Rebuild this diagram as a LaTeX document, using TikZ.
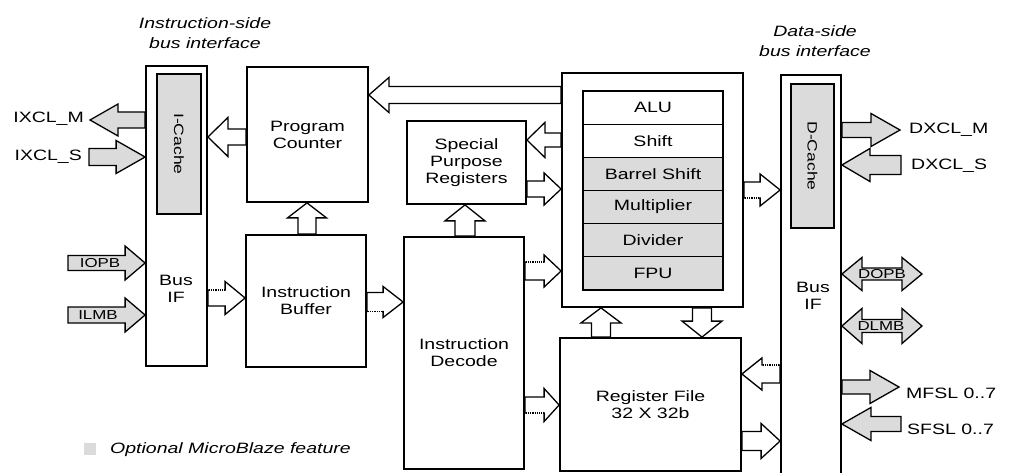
\documentclass[tikz,border=0pt]{standalone}
\usepackage{fontspec}
\setmainfont[FakeStretch=1.3]{Liberation Sans}
\usetikzlibrary{calc,backgrounds}
\definecolor{lgray}{gray}{0.86}
\newcommand\lbl{\fontsize{15}{17}\selectfont}
\newcommand\smlbl{\fontsize{13}{15}\selectfont}
\newcommand\hdlbl{\fontsize{15}{19.5}\selectfont\itshape}
% block arrow: [style]{tail}{tip}{half shaft}{half head}{head length}
\newcommand\blkarrow[6][]{%
  \coordinate (ba) at #2; \coordinate (bb) at #3;
  \coordinate (bc) at ($(bb)!#6pt!(ba)$);
  \draw[arr,#1] ($(ba)!#4pt!90:(bb)$) -- ($(bc)!#4pt!-90:(ba)$) -- ($(bc)!#5pt!-90:(ba)$) -- (bb)
     -- ($(bc)!#5pt!90:(ba)$) -- ($(bc)!#4pt!90:(ba)$) -- ($(ba)!#4pt!-90:(bb)$) -- cycle;}
% double block arrow
\newcommand\dblarrow[6][]{%
  \coordinate (ba) at #2; \coordinate (bb) at #3;
  \coordinate (bc) at ($(bb)!#6pt!(ba)$); \coordinate (bd) at ($(ba)!#6pt!(bb)$);
  \draw[arr,#1] (ba) -- ($(bd)!#5pt!90:(bb)$) -- ($(bd)!#4pt!90:(bb)$) -- ($(bc)!#4pt!-90:(ba)$)
     -- ($(bc)!#5pt!-90:(ba)$) -- (bb) -- ($(bc)!#5pt!90:(ba)$) -- ($(bc)!#4pt!90:(ba)$)
     -- ($(bd)!#4pt!-90:(bb)$) -- ($(bd)!#5pt!-90:(bb)$) -- cycle;}
% dotted shaft edge of the last arrow: {half shaft}{side angle}
\newcommand\dotedgeline[2]{%
  \draw[white,line width=2.4pt,shorten <=1.2pt,shorten >=1pt] ($(ba)!#1pt!#2:(bb)$) -- ($(bc)!#1pt!#2:(bb)$);
  \draw[densely dotted,line width=1.1pt,shorten <=1.2pt,shorten >=1pt] ($(ba)!#1pt!#2:(bb)$) -- ($(bc)!#1pt!#2:(bb)$);}
\tikzset{
  box/.style={draw, line width=1.8pt, fill=white, inner sep=0pt, align=center, font=\lbl},
  cache/.style={draw, line width=1.2pt, fill=lgray, inner sep=0pt},
  row/.style={draw, line width=1.1pt, inner sep=0pt, minimum width=140pt, minimum height=33.17pt, font=\lbl},
  arr/.style={draw, fill=white, line width=1.3pt, line join=miter},
  gfill/.style={fill=lgray},
  txt/.style={inner sep=0pt, align=center, font=\lbl}
}
\begin{document}
\begin{tikzpicture}[x=1pt,y=-1pt]
\useasboundingbox (0,0) rectangle (1012,473);

% boxes
\node[box, minimum width=61pt, minimum height=300pt] (ibus) at (176.5,216) {};
\node[cache, minimum width=44pt, minimum height=140pt] (icache) at (179,144) {};
\node[txt, rotate=-90, font=\fontsize{13.5}{15}\selectfont] (icl) at (icache) {I-Cache};
\node[txt] (ibl) at (176,289) {Bus\\IF};

\node[box, minimum width=121pt, minimum height=135pt] (pc) at (307.5,134.5) {Program\\Counter};
\node[box, minimum width=120pt, minimum height=132pt] (ibuf) at (306,301) {Instruction\\Buffer};
\node[box, minimum width=119pt, minimum height=83pt] (spr) at (466.5,162.5) {Special\\Purpose\\Registers};
\node[box, minimum width=120pt, minimum height=232pt] (dec) at (464,353) {Instruction\\Decode};

\node[box, minimum width=181pt, minimum height=234pt] (exe) at (652.5,190) {};
\node[row, fill=white] (r1) at (653,107.6) {ALU};
\node[row, fill=white] (r2) at (653,140.75) {Shift};
\node[row, fill=lgray] (r3) at (653,173.9) {Barrel Shift};
\node[row, fill=lgray] (r4) at (653,207.1) {Multiplier};
\node[row, fill=lgray] (r5) at (653,240.3) {Divider};
\node[row, fill=lgray] (r6) at (653,273.4) {FPU};

\node[box, minimum width=181pt, minimum height=133pt] (rf) at (650.5,404.5) {Register File\\32 X 32b};

\node[box, minimum width=60pt, minimum height=420pt] (dbus) at (811,285) {};
\node[cache, minimum width=43pt, minimum height=144pt] (dcache) at (812.5,156) {};
\node[txt, rotate=-90, font=\fontsize{13.5}{15}\selectfont] (dcl) at (dcache) {D-Cache};
\node[txt] (dbl) at (813,296) {Bus\\IF};

% free ends
\coordinate (ixm) at (90,120);
\coordinate (ixs) at (89,157);
\coordinate (iopb) at (68,263);
\coordinate (ilmb) at (68,315);
\coordinate (dxm) at (900,130);
\coordinate (dxs) at (901,165);
\coordinate (dopb) at (922,274);
\coordinate (dlmb) at (922,326);
\coordinate (mfsl) at (899,387);
\coordinate (sfsl) at (901,424);

\begin{pgfonlayer}{background}
\blkarrow{(pc.west |- 0,137)}{(ibus.east |- 0,137)}{8}{19.5}{20}
\blkarrow[gfill]{(ibus.west |- 0,120)}{(ixm)}{8}{16}{28}
\blkarrow[gfill]{(ixs)}{(ibus.west |- 0,157)}{8.5}{16.5}{29}
\blkarrow[gfill]{(iopb)}{(ibus.west |- 0,263)}{7.5}{17}{20}
\blkarrow[gfill]{(ilmb)}{(ibus.west |- 0,315)}{8}{17}{20}
\blkarrow{(ibus.east |- 0,298)}{(ibuf.west |- 0,298)}{8}{16.5}{20}
\dotedgeline{8}{90}
\blkarrow{(ibuf.north -| 307,0)}{(pc.south -| 307,0)}{9}{19.5}{15}
\blkarrow{(ibuf.east |- 0,302)}{(dec.west |- 0,302)}{9.5}{15.5}{20}
\dotedgeline{9.5}{-90}
\blkarrow{(dec.north -| 465,0)}{(spr.south -| 465,0)}{10}{20}{16}
\blkarrow{(exe.west |- 0,95)}{(pc.east |- 0,95)}{8.5}{17.5}{20}
\blkarrow{(exe.west |- 0,140)}{(spr.east |- 0,140)}{7}{17.5}{18}
\blkarrow{(spr.east |- 0,189)}{(exe.west |- 0,189)}{8}{16}{17}
\blkarrow{(dec.east |- 0,271)}{(exe.west |- 0,271)}{9}{16}{17}
\dotedgeline{9}{90}
\blkarrow{(dec.east |- 0,405)}{(rf.west |- 0,405)}{8}{16.5}{15}
\dotedgeline{8}{-90}
\blkarrow{(rf.north -| 601,0)}{(exe.south -| 601,0)}{9.5}{20}{15}
\blkarrow{(exe.south -| 702,0)}{(rf.north -| 702,0)}{9.5}{20}{16}
\blkarrow{(exe.east |- 0,190)}{(dbus.west |- 0,190)}{8}{16}{20}
\dotedgeline{8}{-90}
\blkarrow{(dbus.west |- 0,374)}{(rf.east |- 0,374)}{9}{16}{20}
\dotedgeline{9}{-90}
\blkarrow{(rf.east |- 0,441)}{(dbus.west |- 0,441)}{9.5}{17.5}{19}
\blkarrow[gfill]{(dbus.east |- 0,130)}{(dxm)}{7.5}{16.5}{29}
\blkarrow[gfill]{(dxs)}{(dbus.east |- 0,165)}{9.5}{16.5}{28}
\dblarrow[gfill]{(dbus.east |- 0,274)}{(dopb)}{6}{16.5}{20}
\dblarrow[gfill]{(dbus.east |- 0,326)}{(dlmb)}{6.5}{17.5}{20}
\blkarrow[gfill]{(dbus.east |- 0,387)}{(mfsl)}{7}{16.5}{29}
\blkarrow[gfill]{(sfsl)}{(dbus.east |- 0,424)}{7.5}{16.5}{29}
\end{pgfonlayer}

% labels
\node[txt, anchor=east] (lixm) at (84,119) {IXCL\_M};
\node[txt, anchor=east] (lixs) at (82,157) {IXCL\_S};
\node[txt, font=\smlbl] (liopb) at (100,263) {IOPB};
\node[txt, font=\smlbl] (lilmb) at (98,315) {ILMB};
\node[txt, font=\smlbl] (ldopb) at (882,274) {DOPB};
\node[txt, font=\smlbl] (ldlmb) at (881,326) {DLMB};
\node[txt, anchor=west] (ldxm) at (909,130) {DXCL\_M};
\node[txt, anchor=west] (ldxs) at (911,166) {DXCL\_S};
\node[txt, anchor=west] (lmfsl) at (906,393) {MFSL 0..7};
\node[txt, anchor=west] (lsfsl) at (907,429) {SFSL 0..7};

\node[txt, font=\hdlbl] (hi) at (205,33) {Instruction-side\\bus interface};
\node[txt, font=\hdlbl] (hd) at (815,41) {Data-side\\bus interface};

\node[fill=lgray, inner sep=0pt, minimum size=12pt] (leg) at (90,449) {};
\node[txt, anchor=west, font=\fontsize{15}{17}\selectfont\itshape] (legt) at (110,450) {Optional MicroBlaze feature};
\end{tikzpicture}
\end{document}
